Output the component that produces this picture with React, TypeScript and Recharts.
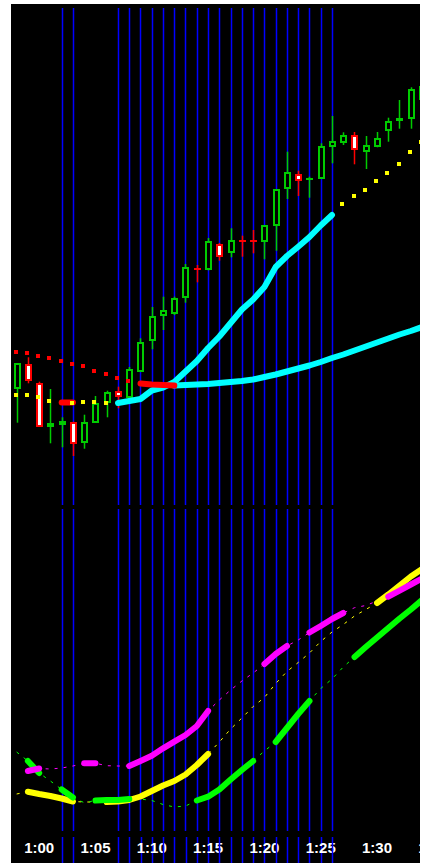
import { ComposedChart, Bar, Line, XAxis, YAxis } from "recharts";

const BLUE = "#0000ff";
const UP = "#00cc00";
const DOWN = "#ff0000";
const RED = "#ff0000";
const YELLOW = "#ffff00";
const CYAN = "#00ffff";
const MAGENTA = "#ff00ff";
const LIME = "#00ff00";

// one-minute bars, 0:58 .. 1:35
const times = [
  "0:58", "0:59", "1:00", "1:01", "1:02", "1:03", "1:04", "1:05", "1:06", "1:07",
  "1:08", "1:09", "1:10", "1:11", "1:12", "1:13", "1:14", "1:15", "1:16", "1:17",
  "1:18", "1:19", "1:20", "1:21", "1:22", "1:23", "1:24", "1:25", "1:26", "1:27",
  "1:28", "1:29", "1:30", "1:31", "1:32", "1:33", "1:34", "1:35",
];

const tickLabels = ["1:00", "1:05", "1:10", "1:15", "1:20", "1:25", "1:30", "1:35"];

const blueMarks = [
  "1:02", "1:03", "1:07", "1:08", "1:09", "1:10", "1:11", "1:12", "1:13", "1:14",
  "1:15", "1:16", "1:17", "1:18", "1:19", "1:20", "1:21", "1:22", "1:23", "1:24",
  "1:25", "1:26",
];

const opens = [115.7, 141.3, 121.7, 77.7, 79.7, 82.7, 62.3, 82.3, 102.3, 114.3, 106.7, 133.3, 164, 188.7, 191.3, 207, 235.7, 234.7, 260.7, 252, 264, 264.3, 263, 279, 316.3, 331, 326.3, 326, 357.7, 362.3, 369.7, 353.3, 357.7, 373.7, 383.7, 386.3, 405];
const highs = [142, 147.7, 123.3, 116, 87.7, 83.3, 90.3, 109, 114.3, 118.3, 138, 166.7, 198, 208.3, 208.3, 241, 240, 267, 262, 276.7, 269.3, 275, 279.7, 315.7, 353.3, 334.3, 328.3, 361.7, 389, 372.7, 373, 369, 373, 387.3, 405, 417.7, 421];
const lows = [82.3, 121.7, 78, 61.7, 57.7, 49, 56.3, 82, 87.7, 96.7, 106.7, 133.3, 155.7, 175, 190, 202.3, 222.7, 234.7, 244.3, 247.7, 248.3, 251.7, 245.7, 254.3, 306, 309, 307.3, 326, 341.7, 360, 340.7, 336, 357.7, 363.3, 376.3, 376.3, 405];
const closes = [141.7, 124, 78.3, 81.7, 84.3, 61, 83, 101.7, 113, 108.3, 136, 163.3, 189, 194.7, 206.7, 238, 235.5, 263.7, 247.7, 265, 263.8, 264.1, 279.7, 315.7, 332.7, 323.7, 326.5, 358.7, 364.3, 370, 355, 360, 367.3, 384.3, 387.3, 416, 419];

// price overlay: D = dotted, R = red thick, C = cyan thick
const upperBand = [152.7, 151.7, 149, 147.3, 144.3, 141.3, 138.7, 134.3, 131.3, 127, 124, 121.5, 120.5, 120, 119.5, 120, 120.5, 121, 122, 123, 124, 125.5, 128, 130.5, 133.5, 136.5, 139.5, 143, 147, 150.5, 154.5, 158.5, 162.5, 166.5, 170.5, 174, 178];
const upperMode = "DDDDDDDDDDDRRRCCCCCCCCCCCCCCCCCCCCCCC";
const lowerBand = [110, 110, 107.7, 104.3, 102.5, 102.5, 102.7, 102.7, 101.7, 102, 104, 106, 114.5, 117.5, 123, 133.5, 144, 157, 168.5, 182, 195.5, 205.5, 218, 238, 249, 258.3, 268, 279.5, 290, 300.7, 309.3, 315.3, 323.7, 332.3, 341, 352.7, 362.7];
const lowerMode = "DDDDRDDDDCCCCCCCCCCCCCCCCCCCCDDDDDDDD";

// lower window: T = thick segment, - = thin dashed
const magentaLine = [null, 60, 62.5, 62, 63, 65, 67.7, 67.7, 65.3, 65, 65, 70, 75.3, 82.7, 89.3, 96, 105, 120, 131, 141, 150, 158, 167, 177, 185, 191, 198.5, 205, 212, 218, 223.3, 225.5, 230, 234.3, 240.4, 246.5, 252.6];
const magentaMask = "-TT---TT--TTTTTTTT----TTT-TTTT---TTTT";
const yellowLine = [37, 39.3, 37, 35, 32.5, 29.5, 29, 29, 29, 29.5, 31, 34.5, 40, 45.5, 50, 56.5, 66, 77, 89, 102, 113, 124.5, 133.5, 147.5, 159.5, 168.5, 178, 189.5, 199, 206.5, 215, 221.5, 228, 236.5, 245.5, 254.5, 262];
const yellowMask = "-TTTTT--TTTTTTTTTT--------------TTTTT";
const greenLine = [79, 70, 58, 50, 41.5, 33.5, 28.3, 30.5, 31, 31, 32, 32, 30.5, 26.5, 24, 25, 30.5, 34.3, 41.5, 51.5, 61, 70, 80, 89, 103, 117, 130, 142.5, 152, 164, 174, 184, 193.5, 203, 212.5, 221.5, 231];
const greenMask = "-TT-TT-TTTT-----TTTTTT-TTTT---TTTTTTT";

const pick = (arr: (number | null)[], i: number) => (i < arr.length ? arr[i] : null);

const rows = times.map((t, i) => ({
  t,
  mark: blueMarks.includes(t) ? 1 : 0,
  open: pick(opens, i),
  high: pick(highs, i),
  low: pick(lows, i),
  close: pick(closes, i),
  uDot: upperMode[i] === "D" ? pick(upperBand, i) : null,
  uRed: upperMode[i] === "R" || upperMode[i - 1] === "R" ? pick(upperBand, i) : null,
  uCyan: upperMode[i] === "C" ? pick(upperBand, i) : null,
  lDot: lowerMode[i] === "D" ? pick(lowerBand, i) : null,
  lRed: lowerMode[i] === "R" || lowerMode[i - 1] === "R" ? pick(lowerBand, i) : null,
  lCyan: lowerMode[i] === "C" ? pick(lowerBand, i) : null,
  mThin: pick(magentaLine, i),
  mThick: magentaMask[i] === "T" ? pick(magentaLine, i) : null,
  yThin: pick(yellowLine, i),
  yThick: yellowMask[i] === "T" ? pick(yellowLine, i) : null,
  gThin: pick(greenLine, i),
  gThick: greenMask[i] === "T" ? pick(greenLine, i) : null,
}));

const candleRange = (d: any) => (d.high == null ? [0, 0] : [d.low, d.high]);

function Candle(props: any) {
  const { x, y, width, height, payload } = props;
  if (!payload || payload.high == null || x == null || y == null) return <g />;
  const top = Math.min(y, y + height);
  const span = Math.abs(height);
  const k = span / (payload.high - payload.low);
  const n = Math.round(x + width / 2);
  const yOpen = top + (payload.high - payload.open) * k;
  const yClose = top + (payload.high - payload.close) * k;
  const up = payload.close >= payload.open;
  const col = up ? UP : DOWN;
  const bTop = Math.round(Math.min(yOpen, yClose));
  const bBot = Math.round(Math.max(yOpen, yClose));
  return (
    <g>
      <line x1={n + 0.5} x2={n + 0.5} y1={top} y2={top + span} stroke={col} strokeWidth={1.5} />
      {Math.abs(yOpen - yClose) < 1.5 ? (
        <rect x={n - 3} y={Math.round(yOpen) - 1} width={7} height={2} fill={col} />
      ) : bBot - bTop < 4 ? (
        <rect x={n - 3} y={bTop} width={7} height={bBot - bTop} fill={col} />
      ) : (
        <rect x={n - 2} y={bTop + 1} width={5} height={bBot - bTop - 2} fill={up ? "#000" : "#fff"} stroke={col} strokeWidth={2} />
      )}
    </g>
  );
}

const squareDot = (color: string) => (p: any) => {
  if (p.cx == null || p.cy == null || p.value == null) return <g key={p.index} />;
  return <rect key={p.index} x={Math.round(p.cx) - 3} y={Math.round(p.cy) - 2} width={4} height={4} fill={color} />;
};

// vertical blue session marks, drawn as the bar background so they sit behind everything
const blueBg = (p: any) => {
  const t = p.payload?.t ?? times[p.index];
  if (!blueMarks.includes(t)) return <g key={`bg${p.index}`} />;
  const x = Math.round(p.x + p.width / 2) + 0.5;
  return <line key={`bg${p.index}`} x1={x} x2={x} y1={p.y} y2={p.y + p.height} stroke={BLUE} strokeWidth={1.5} />;
};

const noShape = () => <g />;

function TimeTick(props: any) {
  const { x, y, payload } = props;
  const t = payload?.value;
  const lx = Math.round(x) + 0.5;
  return (
    <g>
      {blueMarks.includes(t) && <line x1={lx} x2={lx} y1={y + 6} y2={y + 40} stroke={BLUE} strokeWidth={1.5} />}
      {tickLabels.includes(t) && (
        <text x={x} y={y + 22} textAnchor="middle" fill="#ffffff" fontSize={15} fontWeight="bold"
          fontFamily="'Liberation Sans', Arial, sans-serif">
          {t}
        </text>
      )}
    </g>
  );
}

const thick = { strokeWidth: 6, strokeLinecap: "round" as const, strokeLinejoin: "round" as const };

export default function App() {
  return (
    <div style={{ position: "absolute", left: 0, top: 0, width: 428, height: 863, background: "#fff" }}>
      <div style={{ position: "absolute", left: 11, top: 4, width: 409, height: 859, background: "#000", overflow: "hidden" }}>
        <div style={{ position: "absolute", left: 0, top: 0 }}>
          <ComposedChart width={428} height={501} data={rows} margin={{ top: 4, right: 0, bottom: 0, left: 0 }}>
            <XAxis dataKey="t" scale="band" hide />
            <YAxis hide domain={[0, 497]} allowDataOverflow />
            <Bar dataKey={candleRange} barSize={7} shape={Candle} background={blueBg} isAnimationActive={false} />
            <Line dataKey="uDot" stroke="none" dot={squareDot(RED)} activeDot={false} isAnimationActive={false} />
            <Line dataKey="lDot" stroke="none" dot={squareDot(YELLOW)} activeDot={false} isAnimationActive={false} />
            <Line dataKey="lCyan" stroke={CYAN} {...thick} dot={false} activeDot={false} isAnimationActive={false} />
            <Line dataKey="uCyan" stroke={CYAN} {...thick} dot={false} activeDot={false} isAnimationActive={false} />
            <Line dataKey="uRed" stroke={RED} {...thick} dot={false} activeDot={false} isAnimationActive={false} />
            <Line dataKey="lRed" stroke={RED} {...thick} dot={false} activeDot={false} isAnimationActive={false} />
          </ComposedChart>
        </div>
        <div style={{ position: "absolute", left: 0, top: 505 }}>
          <ComposedChart width={428} height={354} data={rows} margin={{ top: 0, right: 0, bottom: 0, left: 0 }}>
            <XAxis dataKey="t" scale="band" interval={0} height={32} tickLine={false} axisLine={false}
              tickSize={0} tickMargin={0} tick={(p: any) => <TimeTick {...p} />} />
            <YAxis hide domain={[0, 322]} allowDataOverflow />
            <Bar dataKey="mark" barSize={7} shape={noShape} background={blueBg} isAnimationActive={false} />
            <Line dataKey="yThin" stroke={YELLOW} strokeWidth={1} strokeDasharray="3 6" dot={false} activeDot={false} isAnimationActive={false} />
            <Line dataKey="gThin" stroke={LIME} strokeWidth={1} strokeDasharray="3 6" dot={false} activeDot={false} isAnimationActive={false} />
            <Line dataKey="mThin" stroke={MAGENTA} strokeWidth={1} strokeDasharray="3 6" dot={false} activeDot={false} isAnimationActive={false} />
            <Line dataKey="yThick" stroke={YELLOW} {...thick} dot={false} activeDot={false} isAnimationActive={false} />
            <Line dataKey="gThick" stroke={LIME} {...thick} dot={false} activeDot={false} isAnimationActive={false} />
            <Line dataKey="mThick" stroke={MAGENTA} {...thick} dot={false} activeDot={false} isAnimationActive={false} />
          </ComposedChart>
        </div>
      </div>
    </div>
  );
}
